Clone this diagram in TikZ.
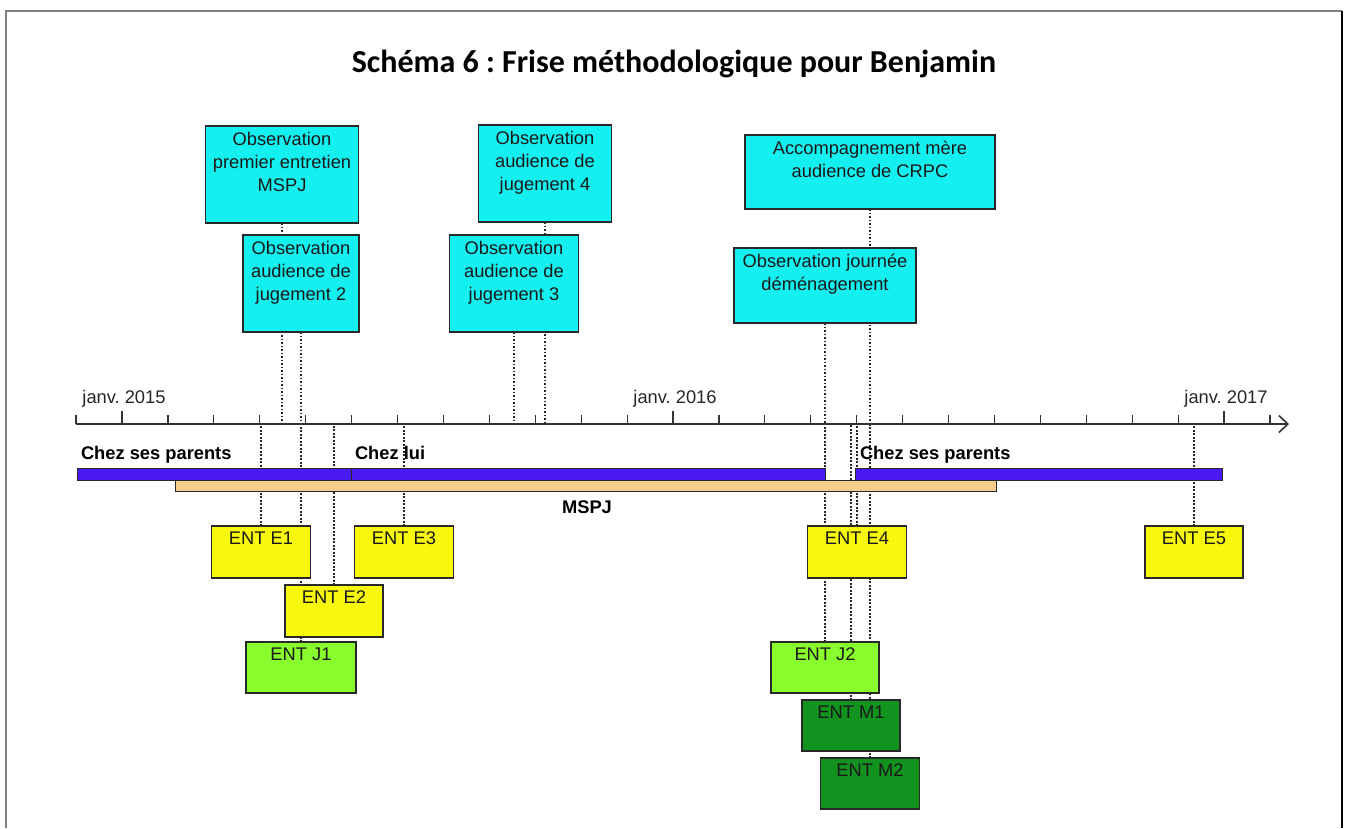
\documentclass[tikz,border=0pt]{standalone}
\usepackage{fontspec}
\setmainfont{Liberation Sans}
\newfontfamily\titlefont{Carlito}
\usetikzlibrary{arrows.meta}
\pgfdeclarelayer{background}
\pgfsetlayers{background,main}
\definecolor{cyanf}{RGB}{20,240,240}
\definecolor{yelf}{RGB}{248,248,12}
\definecolor{lgreen}{RGB}{136,252,44}
\definecolor{dgreen}{RGB}{18,146,30}
\definecolor{barblue}{RGB}{74,24,242}
\definecolor{barpeach}{RGB}{248,204,140}
\definecolor{bordc}{RGB}{40,40,40}
\newcommand\mkbox[7]{%
  \node[#2, minimum width=#5, minimum height=#6] (#1) at (#3,#4) {};
  \node[btxt] (#1t) at ([yshift=-6]#1.north) {#7};}
\frenchspacing
\begin{document}
\begin{tikzpicture}[x=1pt,y=-1pt,
  every node/.style={inner sep=0pt, outer sep=0pt},
  basebox/.style={draw=bordc, line width=1.3pt, rectangle},
  cbox/.style={basebox, fill=cyanf},
  ybox/.style={basebox, fill=yelf},
  lgbox/.style={basebox, fill=lgreen},
  dgbox/.style={basebox, fill=dgreen},
  btxt/.style={anchor=north, align=center, font=\fontsize{18.3}{23}\selectfont, text=black!90},
  dotline/.style={draw=black!85, line width=1.7pt, dash pattern=on 1.7pt off 1.8pt},
  tickst/.style={draw=black!80, line width=1.2pt},
  barst/.style={draw=bordc, line width=1pt},
  barlab/.style={anchor=base west, font=\fontsize{18.3}{23}\selectfont\bfseries},
  datelab/.style={anchor=base, font=\fontsize{18.3}{23}\selectfont, text=black!85}
]
\useasboundingbox (0,0) rectangle (1347,828);
% frame
\draw[black!50, line width=1.5pt] (6,828) -- (6,11) -- (1342,11);
\draw[black, line width=2pt] (1342,11) -- (1342,828);
% title
\node[anchor=base, font=\titlefont\fontsize{32}{38}\selectfont\bfseries] (title) at (674,72) {Schéma 6 : Frise méthodologique pour Benjamin};
% axis coordinate
\coordinate (ax) at (0,424);
% boxes
\mkbox{o1}{cbox}{282}{174.5}{153}{97}{Observation\\premier entretien\\MSPJ}
\mkbox{o4}{cbox}{545}{173.5}{133}{97}{Observation\\audience de\\jugement 4}
\mkbox{acc}{cbox}{870}{172}{250}{74}{Accompagnement mère\\audience de CRPC}
\mkbox{o2}{cbox}{301}{283.5}{116}{97}{Observation\\audience de\\jugement 2}
\mkbox{o3}{cbox}{514}{283.5}{129}{97}{Observation\\audience de\\jugement 3}
\mkbox{dem}{cbox}{825}{285.5}{182}{75}{Observation journée\\déménagement}
\mkbox{e1}{ybox}{261}{552}{99}{52}{ENT E1}
\mkbox{e3}{ybox}{404}{552}{99}{52}{ENT E3}
\mkbox{e2}{ybox}{334}{611}{98}{52}{ENT E2}
\mkbox{j1}{lgbox}{301}{667.5}{110}{51}{ENT J1}
\mkbox{e4}{ybox}{857}{552}{99}{52}{ENT E4}
\mkbox{e5}{ybox}{1194}{552}{98}{52}{ENT E5}
\mkbox{j2}{lgbox}{825}{667.5}{108}{51}{ENT J2}
\mkbox{m1}{dgbox}{851}{725.5}{98}{51}{ENT M1}
\mkbox{m2}{dgbox}{870}{783.5}{99}{51}{ENT M2}
% dotted connectors (behind boxes and bars)
\begin{pgfonlayer}{background}
\foreach \b in {o1,o2,o3,o4,acc,dem}
  \draw[dotline] (\b.south) -- (\b.south |- ax);
\foreach \b in {e1,e2,e3,e4,e5,j1,j2,m1,m2}
  \draw[dotline] (\b.north) -- (\b.north |- ax);
\end{pgfonlayer}
% axis
\draw[tickst, -{Straight Barb[length=9pt,width=17pt,line width=1.6pt]}] (76,424) -- (1289,424);
\foreach \k in {-1,...,25}
  \draw[tickst] ({122+45.92*\k},424) -- ({122+45.92*\k},415);
\foreach \k in {0,12,24}
  \draw[tickst] ({122+45.92*\k},424) -- ({122+45.92*\k},411);
\node[datelab] (d15) at (124,403) {janv. 2015};
\node[datelab] (d16) at (675,403) {janv. 2016};
\node[datelab] (d17) at (1226,403) {janv. 2017};
% bars
\draw[barst, fill=barpeach] (175,480) rectangle (996,491);
\draw[barst, fill=barblue] (77,468) rectangle (351,480);
\draw[barst, fill=barblue] (351,468) rectangle (825,480);
\draw[barst, fill=barblue] (855,468) rectangle (1222,480);
\node[barlab] (l1) at (81,459) {Chez ses parents};
\node[barlab] (l2) at (355,459) {Chez lui};
\node[barlab] (l3) at (860,459) {Chez ses parents};
\node[barlab, anchor=base] (l4) at (587,513) {MSPJ};
\end{tikzpicture}
\end{document}
